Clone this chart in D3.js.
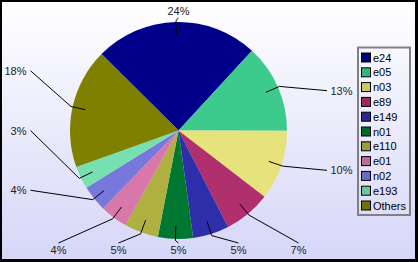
<!DOCTYPE html>
<html>
<head>
<meta charset="utf-8">
<script src="https://cdn.jsdelivr.net/npm/d3@7"></script>
<style>
  html, body { margin: 0; padding: 0; background: #000; }
  svg { display: block; }
</style>
</head>
<body>
<svg id="chart" width="418" height="262"></svg>
<script>
// slice data, in drawing order (clockwise from upper left)
const categories = ['e24', 'e05', 'n03', 'e89', 'e149', 'n01', 'e110', 'e01', 'n02', 'e193', 'Others'];
const shares = [24.4, 13.2, 10.4, 7.0, 5.4, 5.2, 5.1, 4.1, 3.9, 3.4, 17.9];
const sliceColors = ['#00008a', '#3ccb8c', '#e6e27c', '#b0306e', '#2e2eaa', '#007832',
                     '#b0b040', '#d878aa', '#7878dc', '#78e0b0', '#808000'];

const width = 418, height = 262;
const cx = 178.5, cy = 130.5, R = 108.5;
const rx = 162, ry = 119.5;

const svg = d3.select('#chart');

const defs = svg.append('defs');
const bg = defs.append('linearGradient')
  .attr('id', 'bg').attr('x1', 0).attr('y1', 0).attr('x2', 0).attr('y2', 1);
bg.append('stop').attr('offset', '0%').attr('stop-color', '#ffffff');
bg.append('stop').attr('offset', '100%').attr('stop-color', '#d6d6f8');

// black frame + background
svg.append('rect').attr('width', width).attr('height', height).attr('fill', '#000');
svg.append('rect')
  .attr('x', 2).attr('y', 2)
  .attr('width', width - 5).attr('height', height - 5)
  .attr('fill', 'url(#bg)');

const color = d3.scaleOrdinal().domain(categories).range(sliceColors);

const a0 = -45.2 * Math.PI / 180;
const pie = d3.pie()
  .sort(null)
  .startAngle(a0)
  .endAngle(a0 + 2 * Math.PI)
  .value(d => d.value);

const arcs = pie(categories.map((c, i) => ({ name: c, value: shares[i] })));
const arc = d3.arc().innerRadius(0).outerRadius(R);

const g = svg.append('g').attr('transform', `translate(${cx},${cy})`);

g.selectAll('path')
  .data(arcs)
  .join('path')
  .attr('fill', d => color(d.data.name))
  .attr('d', arc);

// label layout: each label goes on a side of a box round the pie,
// spread evenly along that side
const mid = d => (d.startAngle + d.endAngle) / 2;
const sideOf = d => {
  let a = mid(d) + Math.PI / 4;
  a = ((a % (2 * Math.PI)) + 2 * Math.PI) % (2 * Math.PI);
  return Math.floor(a / (Math.PI / 2)); // 0 top, 1 right, 2 bottom, 3 left
};
const W = 360, H = 2 * ry;
const sides = d3.group(arcs, sideOf);
const labels = [];
sides.forEach((list, side) => {
  const n = list.length;
  list.forEach((d, i) => {
    const k = i + 1;
    let x, y;
    if (side === 0) { x = -W / 2 + k * W / (n + 1); y = -ry; }
    if (side === 1) { x = rx; y = -H / 2 + k * H / (n + 1); }
    if (side === 2) { x = W / 2 - k * W / (n + 1); y = ry; }
    if (side === 3) { x = -rx; y = H / 2 - k * H / (n + 1); }
    labels.push({ d, side, x, y });
  });
});

const pt = (a, r) => [r * Math.sin(a), -r * Math.cos(a)];

labels.forEach(l => {
  const a = mid(l.d);
  const p1 = pt(a, R * 0.88);
  const p2 = pt(a, R * 1.015);
  let end, tx, ty, anchor;
  if (l.side === 0) { end = [l.x, l.y + 7]; tx = l.x; ty = l.y + 4; anchor = 'middle'; }
  if (l.side === 2) { end = [l.x, l.y - 7]; tx = l.x; ty = l.y + 4; anchor = 'middle'; }
  if (l.side === 1) { end = [148.5, l.y]; tx = 152; ty = l.y + 4; anchor = 'start'; }
  if (l.side === 3) { end = [-148, l.y]; tx = -152; ty = l.y + 4; anchor = 'end'; }

  g.append('polyline')
    .attr('points', [p1, p2, end].map(p => p.join(',')).join(' '))
    .attr('fill', 'none')
    .attr('stroke', '#000')
    .attr('stroke-width', 1);

  g.append('text')
    .attr('x', tx).attr('y', ty)
    .attr('text-anchor', anchor)
    .attr('font-family', 'Liberation Sans, Arial, sans-serif')
    .attr('font-size', 11)
    .attr('fill', '#222')
    .text(Math.round(l.d.value) + '%');
});

// legend
const row = d3.scaleBand()
  .domain(categories)
  .range([52.5, 52.5 + categories.length * 14.8]);

const legend = svg.append('g');
legend.append('rect')
  .attr('x', 358).attr('y', 47.5)
  .attr('width', 52).attr('height', 167.5)
  .attr('fill', 'none')
  .attr('stroke', '#808080')
  .attr('stroke-width', 2);

const item = legend.selectAll('g.item')
  .data(categories)
  .join('g')
  .attr('class', 'item')
  .attr('transform', d => `translate(0,${row(d)})`);

item.append('rect')
  .attr('x', 361.5).attr('y', 0.5)
  .attr('width', 9).attr('height', 9)
  .attr('fill', d => d3.color(color(d)).darker(0.35))
  .attr('stroke', '#000')
  .attr('stroke-width', 1);

item.append('text')
  .attr('x', 373).attr('y', 9)
  .attr('font-family', 'Liberation Sans, Arial, sans-serif')
  .attr('font-size', 11)
  .attr('fill', '#000')
  .text(d => d);
</script>
</body>
</html>
